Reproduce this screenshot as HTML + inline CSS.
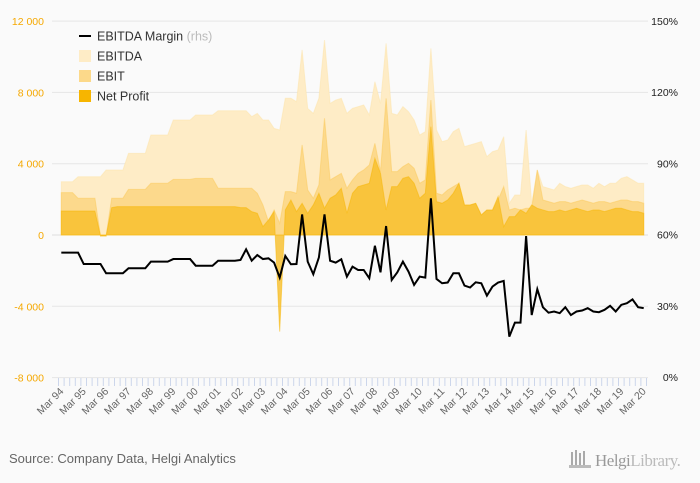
<!DOCTYPE html>
<html><head><meta charset="utf-8"><style>
body{margin:0;background:#fafafa;font-family:"Liberation Sans",sans-serif;}
svg{display:block}
</style></head><body>
<svg id="c" width="700" height="483" viewBox="0 0 700 483">
<rect width="700" height="483" fill="#fafafa"/>
<g id="grid"></g><g id="areas"></g><g id="line"></g><g id="axes"></g>
<g font-size="12.5" fill="#333">
 <line x1="79" y1="36" x2="91" y2="36" stroke="#000" stroke-width="2"/>
 <text x="97" y="40.5">EBITDA Margin <tspan fill="#bbb">(rhs)</tspan></text>
 <rect x="79" y="50" width="12" height="12" fill="#feecc6"/>
 <text x="97" y="60.5">EBITDA</text>
 <rect x="79" y="70" width="12" height="12" fill="#fcd98a"/>
 <text x="97" y="80.5">EBIT</text>
 <rect x="79" y="90" width="12" height="12" fill="#f7b500"/>
 <text x="97" y="100.5">Net Profit</text>
</g>
<text x="9" y="463" font-size="13" fill="#666">Source: Company Data, Helgi Analytics</text>
<g>
 <rect x="571" y="452" width="2" height="14" fill="#aaa"/><rect x="575" y="450" width="2" height="16" fill="#aaa"/><rect x="579" y="453" width="2" height="13" fill="#aaa"/><rect x="583" y="451" width="2" height="15" fill="#aaa"/>
 <rect x="569" y="465" width="22" height="3" fill="#bbb"/>
 <text x="595" y="466" font-size="17" fill="#999" font-family="Liberation Serif,serif" letter-spacing="-0.5">Helgi<tspan fill="#bbb">Library.</tspan></text>
</g>
</svg>
<script>
const ebitda=[2990,2990,2990,3270,3270,3270,3270,3270,3645,3645,3645,3645,4580,4580,4580,4580,5610,5610,5610,5610,6450,6450,6450,6450,6730,6730,6730,6730,6970,6970,6970,6970,6970,6970,6640,6820,6450,6450,5980,5890,7670,7670,7480,10380,7100,6820,7670,10940,7380,7570,7666,6825,7105,7199,7292,6731,8600,7386,10750,6825,6731,7199,6920,6451,5610,5797,10470,5890,5236,5330,5797,5984,4956,5050,5143,5236,4395,4676,4769,5517,1779,2246,2246,5890,1779,3648,2713,2620,2526,2900,2713,2620,2713,2806,2806,2620,2900,2713,2900,2900,3180,3273,3087,2900,2900];
const ebit=[2376,2376,2376,2059,2059,2059,2059,-53,-53,2059,2059,2059,2563,2563,2563,2563,2900,2900,2900,2900,3124,3124,3124,3124,3180,3180,3180,3180,2620,2620,2620,2620,2620,2620,2620,2340,1685,750,1405,657,2433,2433,2340,5050,2526,2059,2806,6545,3087,3273,3460,2620,3087,3460,3648,3928,5143,3554,7666,3554,3554,3835,4022,3741,2900,3087,7572,2340,2246,2526,2713,2900,1685,1685,1779,1124,1405,1405,1965,2713,1405,1498,1405,1498,1498,3648,1965,1872,1779,1872,1872,1780,1872,1965,1872,1780,1872,1872,1780,1872,1965,1965,1872,1872,1780];
const netProfit=[1349,1349,1349,1349,1349,1349,1349,-53,-53,1536,1592,1592,1592,1592,1592,1592,1592,1592,1592,1592,1592,1592,1592,1592,1592,1592,1592,1592,1592,1592,1592,1592,1536,1536,1311,1218,470,844,1311,-5417,1405,1965,1311,1779,1218,1685,2340,1498,2059,2246,2620,1218,2340,2713,2806,2900,4302,3460,1405,2713,2713,3180,3273,2900,2059,2340,6077,1872,1779,1965,2340,2900,1685,1685,1779,1124,1405,1405,2152,470,1031,1031,1405,1218,1685,1498,1405,1311,1311,1405,1311,1405,1498,1405,1311,1405,1405,1311,1405,1498,1498,1405,1311,1311,1218];
const margin=[52.4,52.4,52.4,52.4,47.6,47.6,47.6,47.6,43.7,43.7,43.7,43.7,45.8,45.8,45.8,45.8,48.6,48.6,48.6,48.6,49.7,49.7,49.7,49.7,46.9,46.9,46.9,46.9,49.0,49.0,49.0,49.0,49.3,53.8,49.0,51.4,49.7,50.0,48.2,41.9,51.0,47.5,47.6,68.5,48.6,43.3,50.4,68.5,49.0,48.2,49.6,42.3,46.5,45.1,45.1,41.6,55.3,44.1,63.6,40.9,44.1,48.6,44.4,38.8,42.3,41.9,75.3,41.3,39.5,39.8,43.7,43.7,38.5,37.7,39.9,39.5,34.3,38.1,39.8,40.5,17.0,22.9,22.9,59.4,26.1,37.0,29.4,27.1,27.6,26.9,29.4,26.1,27.6,28.0,29.0,27.6,27.3,28.3,30.0,27.6,30.4,31.1,32.7,29.4,29.0];
const leftTicks=[12000,8000,4000,0,-4000,-8000];
const leftTickLabels=["12 000","8 000","4 000","0","-4 000","-8 000"];
const rightTicks=[150,120,90,60,30,0];
const yearLabels=["Mar 94","Mar 95","Mar 96","Mar 97","Mar 98","Mar 99","Mar 00","Mar 01","Mar 02","Mar 03","Mar 04","Mar 05","Mar 06","Mar 07","Mar 08","Mar 09","Mar 10","Mar 11","Mar 12","Mar 13","Mar 14","Mar 15","Mar 16","Mar 17","Mar 18","Mar 19","Mar 20"];
const NS="http://www.w3.org/2000/svg";
const X0=58.5,STEP=5.6,Y0=235,PX=71.3/4000;
const x=i=>X0+STEP*(i+0.5);
const y=v=>Y0-v*PX;
const yr=p=>377-p*356/150;
function mk(t,a,parent){const e=document.createElementNS(NS,t);for(const k in a)e.setAttribute(k,a[k]);parent.appendChild(e);return e;}
const grid=document.getElementById('grid');
leftTicks.forEach((v,k)=>{
 const l=mk('line',{x1:52,x2:648,y1:y(v),y2:y(v),stroke:v===0?'#ddd':'#e6e6e6','stroke-width':1},grid);
 
 
});
const areas=document.getElementById('areas');
function area(data,fill,stroke,name){
 let d='M'+x(0)+','+y(0);
 data.forEach((v,i)=>d+='L'+x(i)+','+y(v));
 d+='L'+x(data.length-1)+','+y(0)+'Z';
 const p=mk('path',{d:d,fill:fill,stroke:stroke,'stroke-width':1,'stroke-opacity':0.5},areas);
 
 
}
area(ebitda,'#feecc6','#fde3a8','ebitda-area');
area(ebit,'rgba(251,211,120,0.75)','#fbc95a','ebit-area');
area(netProfit,'rgba(248,190,40,0.8)','#f7b500','net-profit-area');
let d='';margin.forEach((v,i)=>d+=(i?'L':'M')+x(i)+','+yr(v));
const ln=mk('path',{d:d,fill:'none',stroke:'#000','stroke-width':2,'stroke-linejoin':'miter'},document.getElementById('line'));


const axes=document.getElementById('axes');
leftTicks.forEach((v,k)=>{
 const t=mk('text',{x:44,y:y(v)+4,'text-anchor':'end','font-size':10.5,fill:'#f5a800'},axes);
 t.textContent=leftTickLabels[k];
 
 
});
rightTicks.forEach(v=>{
 const t=mk('text',{x:678,y:yr(v)+4,'text-anchor':'end','font-size':10.5,fill:'#222'},axes);
 t.textContent=v+'%';
 
 
});
for(let k=0;k<=margin.length;k++){
 const tk=mk('line',{x1:X0+STEP*k,x2:X0+STEP*k,y1:378,y2:386,stroke:'#ccd6eb','stroke-width':1},axes);
 
 
}
yearLabels.forEach((s,k)=>{
 const xx=x(k*4)+3,yy=392;
 const t=mk('text',{x:xx,y:yy,'text-anchor':'end','font-size':10.5,fill:'#666',transform:`rotate(-45 ${xx} ${yy})`},axes);
 t.textContent=s;
 
 
});
</script>
</body></html>
